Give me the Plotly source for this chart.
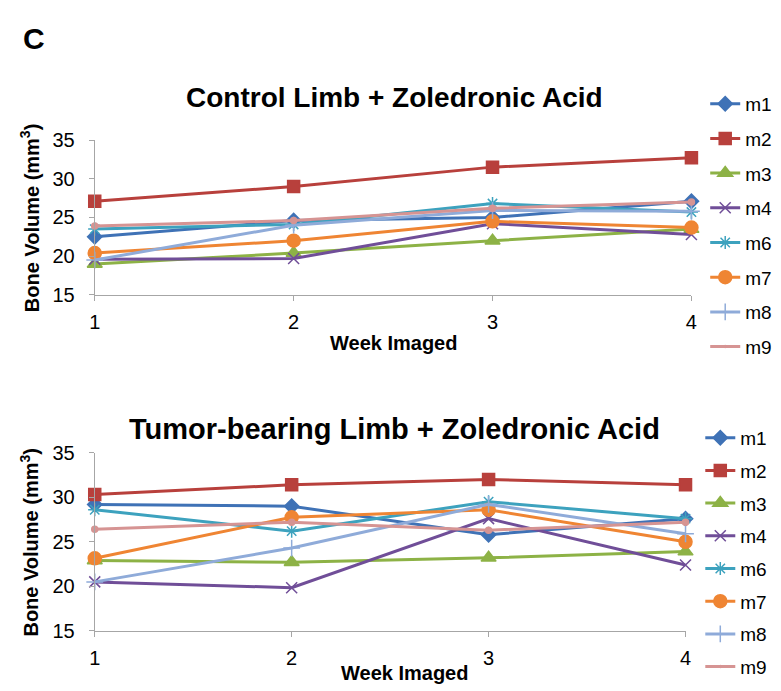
import plotly.graph_objects as go

weeks = [1, 2, 3, 4]
mice = ["m1", "m2", "m3", "m4", "m6", "m7", "m8", "m9"]

# bone volume (mm3), control limb
control = {
    "m1": [22.5, 24.6, 25.0, 27.1],
    "m2": [27.1, 29.0, 31.5, 32.7],
    "m3": [19.0, 20.4, 22.0, 23.5],
    "m4": [19.6, 19.7, 24.2, 22.8],
    "m6": [23.5, 24.1, 26.8, 25.7],
    "m7": [20.4, 22.0, 24.5, 23.7],
    "m8": [19.5, 24.0, 25.9, 25.8],
    "m9": [23.9, 24.6, 26.2, 27.0],
}
# bone volume (mm3), tumor-bearing limb
tumor = {
    "m1": [29.2, 29.0, 25.8, 27.6],
    "m2": [30.3, 31.4, 32.0, 31.4],
    "m3": [22.9, 22.7, 23.2, 23.9],
    "m4": [20.5, 19.85, 27.6, 22.4],
    "m6": [28.6, 26.2, 29.5, 27.6],
    "m7": [23.15, 27.75, 28.6, 25.0],
    "m8": [20.5, 24.3, 29.2, 25.9],
    "m9": [26.4, 27.2, 26.3, 27.2],
}

colors = {"m1": "#3F72B6", "m2": "#B8403C", "m3": "#8DB246", "m4": "#704E98",
          "m6": "#3DA2BE", "m7": "#EF8533", "m8": "#8FABD9", "m9": "#D69493"}
symbols = {"m1": ("diamond", 11), "m2": ("square", 12), "m3": ("triangle-up", 13),
           "m4": ("x-thin-open", 11), "m6": ("asterisk-open", 11), "m7": ("circle", 13),
           "m8": ("cross-thin-open", 12), "m9": ("circle", 0)}

W, H = 781, 691
fig = go.Figure()

for data, xa, ya, leg in [(control, "x", "y", "legend"), (tumor, "x2", "y2", "legend2")]:
    for m in mice:
        sym, sz = symbols[m]
        fig.add_trace(go.Scatter(
            x=weeks, y=data[m], name=m, mode="lines+markers",
            xaxis=xa, yaxis=ya, legend=leg, legendgroup=m + leg,
            line=dict(color=colors[m], width=3),
            marker=dict(symbol=sym, size=sz, color=colors[m],
                        line=dict(color=colors[m], width=1.5)),
            cliponaxis=False,
        ))

def px(v): return v / W
def py(v): return 1 - v / H

axis_font = dict(family="Liberation Sans, Arial", size=20, color="#000")
xcommon = dict(range=[1, 4], tickvals=weeks, showgrid=False, zeroline=False,
               showline=True, linecolor="#A6A6A6", linewidth=1.2,
               ticks="outside", ticklen=5, tickcolor="#A6A6A6",
               tickfont=axis_font, ticklabelstandoff=4)
ycommon = dict(range=[15, 35], dtick=5, showgrid=False, zeroline=False,
               showline=True, linecolor="#A6A6A6", linewidth=1.2,
               ticks="outside", ticklen=5, tickcolor="#A6A6A6",
               tickfont=axis_font, ticklabelstandoff=10)

legend_common = dict(font=dict(family="Liberation Sans, Arial", size=19, color="#000"),
                     xanchor="left", yanchor="top",
                     bgcolor="rgba(0,0,0,0)", itemwidth=30)

fig.update_layout(
    width=W, height=H, margin=dict(l=0, r=0, t=0, b=0),
    paper_bgcolor="white", plot_bgcolor="white",
    xaxis=dict(domain=[px(82), px(688)], anchor="y", **xcommon),
    yaxis=dict(domain=[py(285), py(125)], anchor="x", **ycommon),
    xaxis2=dict(domain=[px(82), px(682)], anchor="y2", **xcommon),
    yaxis2=dict(domain=[py(632), py(448)], anchor="x2", **ycommon),
    legend=dict(x=px(702), y=py(68), tracegroupgap=7, **legend_common),
    legend2=dict(x=px(697), y=py(413), tracegroupgap=5, **legend_common),
    font=dict(family="Liberation Sans, Arial"),
)

bold = dict(family="Liberation Sans, Arial", color="#000")
notes = [
    ("<b>C</b>", 20, 20, 30, 0),
    ("<b>Control Limb + Zoledronic Acid</b>", 386, 81, 28, 0),
    ("<b>Tumor-bearing Limb + Zoledronic Acid</b>", 386, 423, 29, 0),
    ("<b>Bone Volume (mm<sup>3</sup>)</b>", 16, 205, 20, -90),
    ("<b>Bone Volume (mm<sup>3</sup>)</b>", 16, 540, 20, -90),
    ("<b>Week Imaged</b>", 385, 335, 20, 0),
    ("<b>Week Imaged</b>", 397, 675, 20, 0),
]
for text, x, y, size, ang in notes:
    fig.add_annotation(text=text, x=px(x), y=py(y), xref="paper", yref="paper",
                       showarrow=False, textangle=ang, xanchor="center", yanchor="middle",
                       font=dict(size=size, **bold))

fig.write_html("out.html")
